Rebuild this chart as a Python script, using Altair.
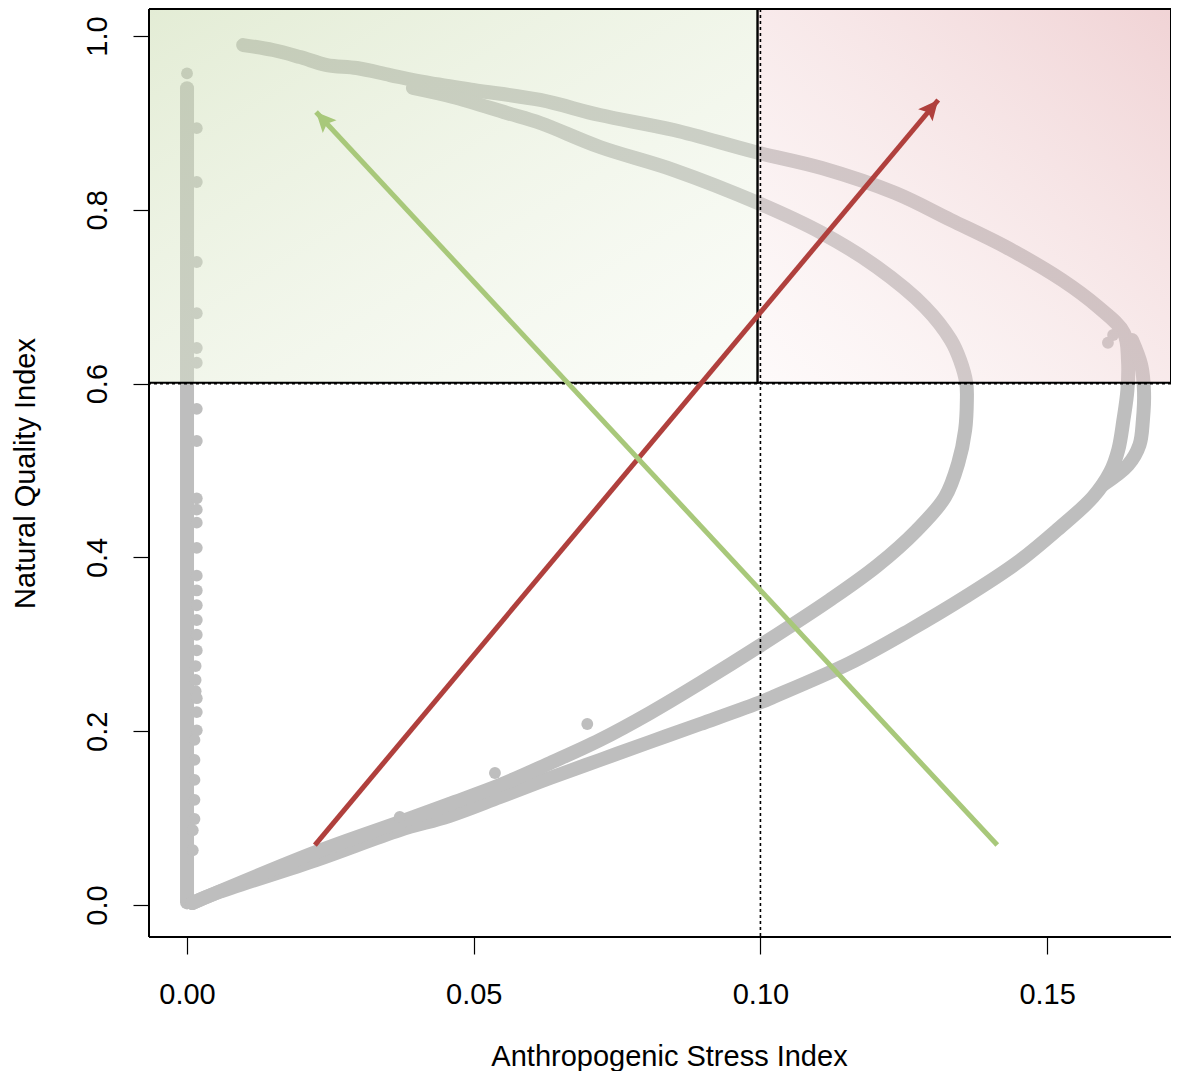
import math
import altair as alt
import pandas as pd

# ---- axis ranges (data units) ----
X_MIN, X_MAX = -0.00663, 0.1716
Y_MIN, Y_MAX = -0.0368, 1.0311
W, H = 1022, 928

x_ticks = [0.0, 0.05, 0.10, 0.15]
y_ticks = [0.0, 0.2, 0.4, 0.6, 0.8, 1.0]

# ---- grey bands ----
outer_x = [0.0009, 0.0051, 0.0225, 0.0371, 0.0457, 0.0546, 0.0633, 0.0720, 0.0807, 0.0895,
           0.1001, 0.1022, 0.1156, 0.1261, 0.1357, 0.1447, 0.1517, 0.1580, 0.1610, 0.1624,
           0.1633, 0.1640, 0.1641, 0.1634, 0.1589, 0.1526, 0.1428, 0.1332, 0.1235, 0.1107,
           0.0991, 0.0849, 0.0720, 0.0616, 0.0499, 0.0412, 0.0354, 0.0296, 0.0244, 0.0197,
           0.0150, 0.0098]
outer_y = [0.0023, 0.0138, 0.0518, 0.0863, 0.1024, 0.1243, 0.1461, 0.1669, 0.1876, 0.2083,
           0.2336, 0.2394, 0.2785, 0.3165, 0.3544, 0.3936, 0.4315, 0.4695, 0.4983, 0.5236,
           0.5581, 0.5926, 0.6272, 0.6582, 0.6881, 0.7192, 0.7572, 0.7883, 0.8193, 0.8481,
           0.8665, 0.8918, 0.9091, 0.9264, 0.9379, 0.9471, 0.9551, 0.9632, 0.9666, 0.9758,
           0.9839, 0.9896]

outer_b_x = [0.1648, 0.1664, 0.1669, 0.1667, 0.1661, 0.1641, 0.1597]
outer_b_y = [0.6502, 0.6214, 0.5903, 0.5581, 0.5293, 0.5063, 0.4833]

inner_x = [0.0009, 0.0225, 0.0371, 0.0457, 0.0546, 0.0633, 0.0720, 0.0807, 0.0895, 0.1001,
           0.1121, 0.1203, 0.1273, 0.1322, 0.1345, 0.1357, 0.1360, 0.1359, 0.1348, 0.1332,
           0.1287, 0.1203, 0.1107, 0.0996, 0.0849, 0.0720, 0.0616, 0.0558, 0.0464, 0.0394]
inner_y = [0.0023, 0.0610, 0.0955, 0.1162, 0.1381, 0.1634, 0.1899, 0.2209, 0.2555, 0.2992,
           0.3510, 0.3901, 0.4315, 0.4695, 0.5086, 0.5466, 0.5811, 0.6007, 0.6272, 0.6502,
           0.6881, 0.7342, 0.7733, 0.8078, 0.8458, 0.8723, 0.8999, 0.9114, 0.9298, 0.9402]

column_x = [0.0, 0.0]
column_y = [0.003, 0.940]

# scattered points next to the column and a few outliers
dots_x = [0.0, 0.0017, 0.0017, 0.0017, 0.0017, 0.0017, 0.0017, 0.0017, 0.0017, 0.0017,
          0.0017, 0.0017, 0.0017, 0.0017, 0.0017, 0.0017, 0.0017, 0.0017, 0.0017, 0.0015,
          0.0015, 0.0015, 0.0017, 0.0017, 0.0017, 0.0013, 0.0013, 0.0013, 0.0013, 0.0013,
          0.0010, 0.0010, 0.0537, 0.0698, 0.0371, 0.1615, 0.1606]
dots_y = [0.957, 0.894, 0.832, 0.740, 0.681, 0.641, 0.624, 0.571, 0.534, 0.468,
          0.455, 0.440, 0.411, 0.379, 0.362, 0.345, 0.328, 0.311, 0.293, 0.275,
          0.259, 0.246, 0.238, 0.222, 0.201, 0.190, 0.167, 0.144, 0.121, 0.099,
          0.086, 0.063, 0.1519, 0.2083, 0.1013, 0.6560, 0.6470]

# ---- zones ----
zone_split_x = 0.0995
zone_split_y = 0.601

# ---- reference lines ----
ref_x = [0.10]
ref_y = [0.60]

# ---- arrows ----
arrow_name = ["red", "green"]
arrow_color = ["#b0403d", "#a8c87a"]
arrow_x0 = [0.0223, 0.1413]
arrow_y0 = [0.0690, 0.0690]
arrow_x1 = [0.1310, 0.0225]
arrow_y1 = [0.9264, 0.9125]

FONT = "Liberation Sans"

# ---- build tables ----
rows = []
for name, xs_, ys_ in [("column", column_x, column_y), ("outer", outer_x, outer_y),
                       ("outer_b", outer_b_x, outer_b_y), ("inner", inner_x, inner_y)]:
    for i, (a, b) in enumerate(zip(xs_, ys_)):
        rows.append({"curve": name, "i": i, "x": a, "y": b})
curves = pd.DataFrame(rows)
dots = pd.DataFrame({"x": dots_x, "y": dots_y})

sx = W / (X_MAX - X_MIN)
sy = H / (Y_MAX - Y_MIN)
angles = []
for a0, b0, a1, b1 in zip(arrow_x0, arrow_y0, arrow_x1, arrow_y1):
    ang = math.degrees(math.atan2((a1 - a0) * sx, (b1 - b0) * sy)) % 360
    angles.append(ang)
arrows = pd.DataFrame({"name": arrow_name, "x": arrow_x0, "y": arrow_y0,
                       "x2": arrow_x1, "y2": arrow_y1, "angle": angles})

xs = alt.Scale(domain=[X_MIN, X_MAX], nice=False, zero=False)
ys = alt.Scale(domain=[Y_MIN, Y_MAX], nice=False, zero=False)
col_scale = alt.Scale(domain=arrow_name, range=arrow_color)

x_axis = alt.Axis(values=x_ticks, format=".2f", title="Anthropogenic Stress Index",
                  grid=False, domain=False, tickSize=17, tickColor="black", tickWidth=1.2,
                  labelFontSize=29, labelFont=FONT, labelColor="black",
                  labelBaseline="alphabetic", labelPadding=49, labelFlush=False,
                  titleFontSize=29, titleFont=FONT, titleFontWeight="normal", titleColor="black",
                  titleX=520, titleY=128, titleBaseline="alphabetic", titleAlign="center")
y_axis = alt.Axis(values=y_ticks, format=".1f", title="Natural Quality Index",
                  grid=False, domain=False, tickSize=16, tickColor="black", tickWidth=1.2,
                  labelFontSize=29, labelFont=FONT, labelColor="black", labelAngle=270,
                  labelAlign="center", labelBaseline="alphabetic", labelPadding=27,
                  labelFlush=False,
                  titleFontSize=29, titleFont=FONT, titleFontWeight="normal", titleColor="black",
                  titleAngle=270, titleX=-115, titleY=H / 2, titleBaseline="alphabetic",
                  titleAlign="center")

XQ = alt.X("x:Q", scale=xs, axis=x_axis)
YQ = alt.Y("y:Q", scale=ys, axis=y_axis)

bands = alt.Chart(curves).mark_line(
    color="#bebebe", strokeWidth=14, strokeCap="round", strokeJoin="round",
    interpolate="catmull-rom", clip=True
).encode(x=XQ, y=YQ, detail="curve:N", order="i:Q")

dot_layer = alt.Chart(dots).mark_circle(color="#bebebe", opacity=1, size=140, clip=True).encode(
    x=XQ, y=YQ)

green_fill = {"gradient": "linear", "x1": 0, "y1": 0, "x2": 1, "y2": 1,
              "stops": [{"offset": 0, "color": "rgba(200,218,172,0.5)"},
                        {"offset": 1, "color": "rgba(240,245,232,0.3)"}]}
red_fill = {"gradient": "linear", "x1": 1, "y1": 0, "x2": 0, "y2": 1,
            "stops": [{"offset": 0, "color": "rgba(226,168,172,0.5)"},
                      {"offset": 1, "color": "rgba(250,238,238,0.3)"}]}

green_zone = alt.Chart(pd.DataFrame({"x": [X_MIN], "x2": [zone_split_x],
                                     "y": [zone_split_y], "y2": [Y_MAX]})).mark_rect(
    fill=green_fill, stroke="black", strokeWidth=2, clip=True
).encode(x=XQ, x2="x2:Q", y=YQ, y2="y2:Q")
red_zone = alt.Chart(pd.DataFrame({"x": [zone_split_x], "x2": [X_MAX],
                                   "y": [zone_split_y], "y2": [Y_MAX]})).mark_rect(
    fill=red_fill, stroke="black", strokeWidth=2, clip=True
).encode(x=XQ, x2="x2:Q", y=YQ, y2="y2:Q")

vline = alt.Chart(pd.DataFrame({"x": ref_x})).mark_rule(
    color="black", strokeWidth=1.6, strokeDash=[3, 3]
).encode(x=XQ)
hline = alt.Chart(pd.DataFrame({"y": ref_y})).mark_rule(
    color="black", strokeWidth=1.6, strokeDash=[3, 3]
).encode(y=YQ)

frame_left = alt.Chart().mark_rule(color="black", strokeWidth=2).encode(
    x=alt.value(0), y=alt.value(0), y2=alt.value(H))
frame_top = alt.Chart().mark_rule(color="black", strokeWidth=2).encode(
    x=alt.value(0), x2=alt.value(W), y=alt.value(0))
frame_bottom = alt.Chart().mark_rule(color="black", strokeWidth=2).encode(
    x=alt.value(0), x2=alt.value(W), y=alt.value(H))

arrow_lines = alt.Chart(arrows).mark_rule(strokeWidth=5).encode(
    x=XQ, y=YQ, x2="x2:Q", y2="y2:Q",
    color=alt.Color("name:N", scale=col_scale, legend=None),
)
arrow_heads = alt.Chart(arrows).mark_point(
    shape="M0,0L0.94,2L0,1.6L-0.94,2Z", filled=True, opacity=1, size=400, strokeWidth=0
).encode(
    x=alt.X("x2:Q", scale=xs, axis=x_axis), y=alt.Y("y2:Q", scale=ys, axis=y_axis),
    angle=alt.Angle("angle:Q", scale=None),
    color=alt.Color("name:N", scale=col_scale, legend=None),
)

chart = alt.layer(
    bands, dot_layer, green_zone, red_zone, vline, hline,
    frame_left, frame_top, frame_bottom, arrow_lines, arrow_heads
).properties(
    width=W, height=H,
    padding={"left": 141, "top": 1, "right": 0, "bottom": 134},
    autosize=alt.AutoSizeParams(type="none"),
    background="white",
).configure_view(stroke=None)

chart.save("out.html", embed_options={"renderer": "svg", "actions": False})
